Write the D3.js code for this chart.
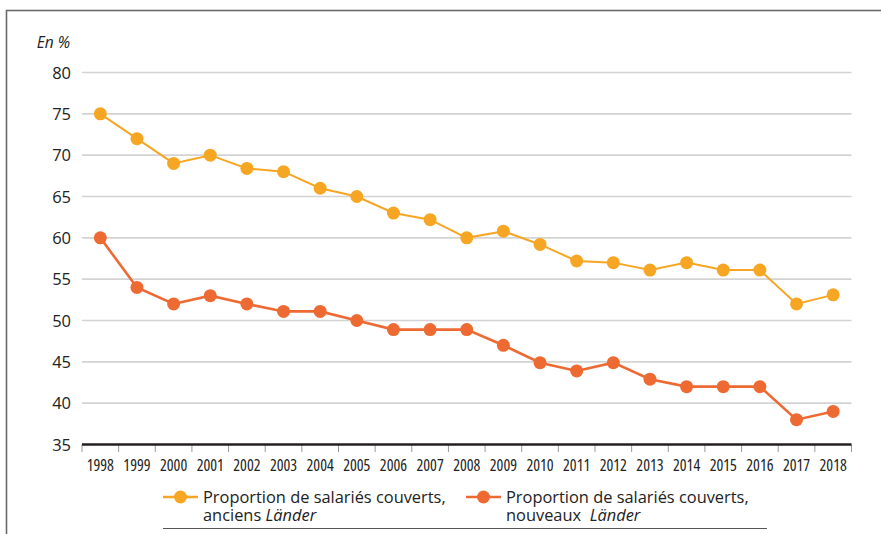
<!DOCTYPE html>
<html>
<head>
<meta charset="utf-8">
<script src="https://cdn.jsdelivr.net/npm/d3@7"></script>
<style>
  html, body { margin: 0; padding: 0; background: #fff; }
  svg { display: block; }
  .ytick text { font-family: "Open Sans", "Noto Sans", sans-serif; font-size: 16.5px; fill: #222; }
  .xtick text { font-family: "Liberation Sans Narrow", "Open Sans", sans-serif; font-stretch: condensed; font-size: 16px; fill: #222; }
  .legend text { font-family: "Open Sans", "Noto Sans", sans-serif; font-size: 16.4px; fill: #222; }
</style>
</head>
<body>
<svg id="chart" width="881" height="534"></svg>
<script>
// Years on the horizontal axis
const years = [1998, 1999, 2000, 2001, 2002, 2003, 2004, 2005, 2006, 2007, 2008,
               2009, 2010, 2011, 2012, 2013, 2014, 2015, 2016, 2017, 2018];

// Share of employees covered by a collective agreement, former Länder (west)
const anciens = [75, 72, 69, 70, 68.4, 68, 66, 65, 63, 62.2, 60,
                 60.8, 59.2, 57.2, 57, 56.1, 57, 56.1, 56.1, 52, 53.1];

// Share of employees covered by a collective agreement, new Länder (east)
const nouveaux = [60, 54, 52, 53, 52, 51.1, 51.1, 50, 48.9, 48.9, 48.9,
                  47, 44.9, 43.9, 44.9, 42.9, 42, 42, 42, 38, 39];

const yTicks = [35, 40, 45, 50, 55, 60, 65, 70, 75, 80];

const seriesNames = [
  ["Proportion de salariés couverts,", "anciens ", "Länder"],
  ["Proportion de salariés couverts,", "nouveaux  ", "Länder"]
];
const colors = ["#F6A623", "#EE6A33"];

const svg = d3.select("#chart");

// Outer frame (continues past the right and bottom edges)
svg.append("rect")
  .attr("x", 6.5).attr("y", 10.5)
  .attr("width", 900).attr("height", 560)
  .attr("fill", "none")
  .attr("stroke", "#6a6a6a")
  .attr("stroke-width", 1.6);

const plotLeft = 82, plotRight = 851.5, plotTop = 72.5, plotBottom = 444.5;

const x = d3.scaleBand().domain(years).range([plotLeft, plotRight]);
const y = d3.scaleLinear().domain([35, 80]).range([plotBottom, plotTop]);

// Horizontal gridlines
svg.append("g")
  .selectAll("line")
  .data(yTicks.filter(t => t > 35))
  .join("line")
  .attr("x1", plotLeft).attr("x2", plotRight)
  .attr("y1", d => y(d)).attr("y2", d => y(d))
  .attr("stroke", "#d3d3d3")
  .attr("stroke-width", 1.6);

// Y axis labels
const yAxis = svg.append("g").attr("class", "ytick")
  .attr("transform", `translate(${plotLeft},0)`)
  .call(d3.axisLeft(y).tickValues(yTicks).tickSize(0).tickPadding(11));
yAxis.select(".domain").remove();
yAxis.selectAll("text").attr("dy", "0.35em");

// Unit label
svg.append("text")
  .attr("x", 70).attr("y", 48)
  .attr("text-anchor", "end")
  .attr("font-family", "'Open Sans', 'Noto Sans', sans-serif")
  .attr("font-style", "italic")
  .attr("font-size", 15.5)
  .attr("fill", "#222")
  .text("En %");

// X axis: ticks at band boundaries, labels at band centres
const xAxisG = svg.append("g").attr("class", "xtick");
const bounds = years.map(d => x(d)).concat([x(years[years.length - 1]) + x.bandwidth()]);
xAxisG.selectAll("line.tk")
  .data(bounds)
  .join("line")
  .attr("class", "tk")
  .attr("x1", d => d).attr("x2", d => d)
  .attr("y1", plotBottom).attr("y2", plotBottom + 7.5)
  .attr("stroke", "#999")
  .attr("stroke-width", 1);
xAxisG.selectAll("text")
  .data(years)
  .join("text")
  .attr("x", d => x(d) + x.bandwidth() / 2)
  .attr("y", plotBottom + 26)
  .attr("text-anchor", "middle")
  .text(d => d);
xAxisG.append("line")
  .attr("x1", plotLeft).attr("x2", plotRight)
  .attr("y1", plotBottom).attr("y2", plotBottom)
  .attr("stroke", "#231f20")
  .attr("stroke-width", 2.6);

// Series lines and markers
const cx = d => x(d) + x.bandwidth() / 2;
[anciens, nouveaux].forEach((vals, i) => {
  const pts = years.map((yr, j) => [yr, vals[j]]);
  svg.append("path")
    .datum(pts)
    .attr("fill", "none")
    .attr("stroke", colors[i])
    .attr("stroke-width", i === 0 ? 2 : 2.6)
    .attr("d", d3.line().x(d => cx(d[0])).y(d => y(d[1])));
  svg.append("g")
    .selectAll("circle")
    .data(pts)
    .join("circle")
    .attr("cx", d => cx(d[0]))
    .attr("cy", d => y(d[1]))
    .attr("r", 6.5)
    .attr("fill", colors[i]);
});

// Legend: marker, then a two-line label (second line ends with italic "Länder")
const legend = svg.append("g").attr("class", "legend");
const legX = [163, 466];
seriesNames.forEach((nm, i) => {
  const g = legend.append("g");
  g.append("line")
    .attr("x1", legX[i]).attr("x2", legX[i] + 35)
    .attr("y1", 497).attr("y2", 497)
    .attr("stroke", colors[i]).attr("stroke-width", 2.6);
  g.append("circle")
    .attr("cx", legX[i] + 17.5).attr("cy", 497)
    .attr("r", 6.5).attr("fill", colors[i]);
  const t = g.append("text").attr("xml:space", "preserve");
  t.append("tspan").attr("x", legX[i] + 40).attr("y", 503).text(nm[0]);
  t.append("tspan").attr("x", legX[i] + 40).attr("y", 521).text(nm[1]);
  t.append("tspan").attr("font-style", "italic").text(nm[2]);
});
legend.append("line")
  .attr("x1", 163).attr("x2", 767)
  .attr("y1", 528.5).attr("y2", 528.5)
  .attr("stroke", "#555").attr("stroke-width", 1);
</script>
</body>
</html>
